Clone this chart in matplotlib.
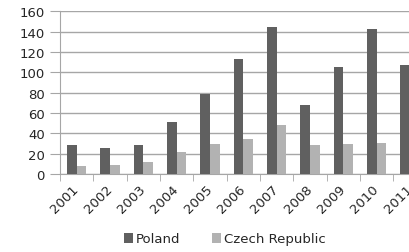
import numpy as np
import matplotlib
matplotlib.use('Agg')
import matplotlib.pyplot as plt

# values
years = ['2001', '2002', '2003', '2004', '2005', '2006', '2007', '2008', '2009', '2010', '2011']
poland = [29, 26, 29, 51, 79, 113, 144, 68, 105, 142, 107]
czech = [8, 9, 12, 22, 30, 34, 48, 29, 30, 31, 30]

plt.rcParams['font.family'] = ['DejaVu Sans']

fig = plt.figure(figsize=(4.09, 2.53), dpi=100)
# axes run past the right edge, as in the cropped original
ax = fig.add_axes([0.1467, 0.308, 0.8965, 0.644])

x = np.arange(len(years))
w = 1 / 3.5
ax.bar(x - w / 2, poland, w, color='#606060', label='Poland', zorder=3)
ax.bar(x + w / 2, czech, w, color='#b2b2b2', label='Czech Republic', zorder=3)

ax.set_xlim(-0.5, len(years) - 0.5)
ax.set_ylim(0, 160)
ax.set_yticks(range(0, 161, 20))
ax.yaxis.grid(True, color='#a6a6a6', linewidth=1)
ax.set_axisbelow(True)

ax.set_xticks(x)
ax.set_xticklabels(years, rotation=45, ha='right', va='center', rotation_mode='anchor', fontsize=9.5, color='#262626')
ax.set_xticks(np.arange(-0.5, len(years), 1), minor=True)
ax.tick_params(axis='x', which='major', length=0, pad=9)
ax.tick_params(axis='x', which='minor', length=5, color='#a6a6a6')
ax.tick_params(axis='y', length=7, color='#a6a6a6', labelsize=9.5, labelcolor='#262626', pad=4)

for s in ['top', 'right']:
    ax.spines[s].set_visible(False)
for s in ['left', 'bottom']:
    ax.spines[s].set_color('#a6a6a6')

fig.legend(loc='center', bbox_to_anchor=(225 / 409, 1 - 240 / 253), ncol=2, frameon=False,
           fontsize=9.5, labelcolor='#262626', handlelength=0.7, handleheight=0.7,
           handletextpad=0.2, columnspacing=2.4)

fig.savefig('out.png', dpi=100)
